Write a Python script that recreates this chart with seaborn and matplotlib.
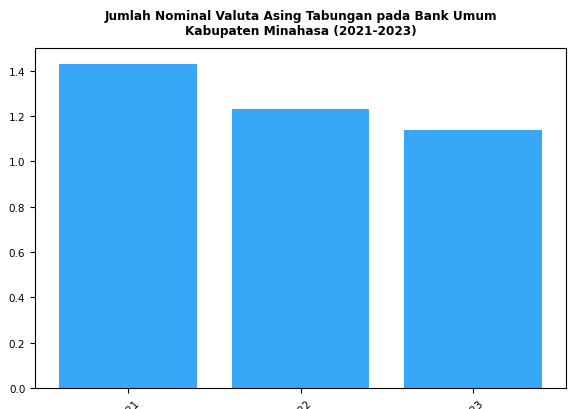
import matplotlib
matplotlib.use("Agg")
import matplotlib.pyplot as plt
import seaborn as sns
import pandas as pd

years = ["2021", "2022", "2023"]
values = [1.43, 1.23, 1.14]

sns.set_style("ticks")
plt.rcParams['font.family'] = ['DejaVu Sans']
plt.rcParams['text.color'] = 'black'
plt.rcParams['xtick.color'] = 'black'
plt.rcParams['ytick.color'] = 'black'

fig = plt.figure(figsize=(5.76, 4.10), dpi=100)
ax = fig.add_axes([35/576, 21/410, 531/576, 340/410])
df = pd.DataFrame({"Tahun": years, "Nilai": values})
sns.barplot(data=df, x="Tahun", y="Nilai", color="#39A7F8", saturation=1, width=0.8,
            linewidth=0, edgecolor="none", ax=ax)
ax.set_xlim(-0.54, 2.54)
ax.set_ylim(0, 1.5)
ax.set_yticks([0, 0.2, 0.4, 0.6, 0.8, 1.0, 1.2, 1.4])
ax.set_xlabel("")
ax.set_ylabel("")
ax.tick_params(axis="both", labelsize=7.5, length=3.5, colors="black")
plt.setp(ax.get_xticklabels(), rotation=45)
for s in ax.spines.values():
    s.set_visible(True)
    s.set_color("black")
    s.set_linewidth(0.8)
ax.set_title("Jumlah Nominal Valuta Asing Tabungan pada Bank Umum\nKabupaten Minahasa (2021-2023)",
             fontsize=8.7, fontweight="bold", pad=10, color="black", linespacing=1.2)
fig.savefig("out.png", dpi=100)
